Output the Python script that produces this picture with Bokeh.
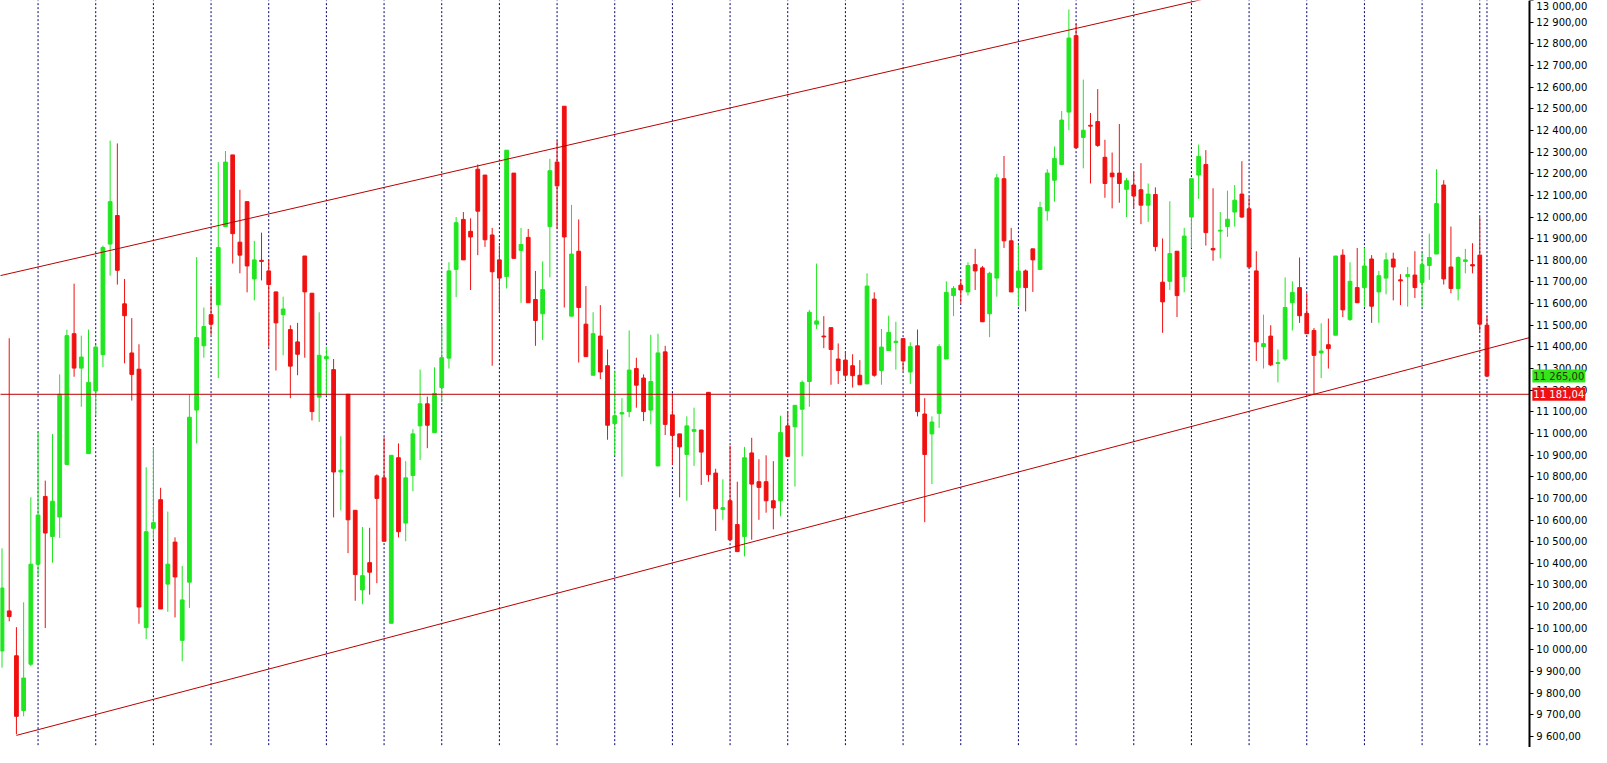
from bokeh.plotting import figure
from bokeh.models import (Range1d, LinearAxis, FixedTicker, CustomJSTickFormatter,
                          Label, ColumnDataSource)
from bokeh.embed import file_html
from bokeh.resources import INLINE

# ---------------- data ----------------
opens = [9995, 10180, 9973, 9720, 9934, 10396, 10709, 10524, 10614, 10857,
         11461, 11302, 10907, 11196, 11364, 11875, 12007, 11599, 11372, 11297,
         10103, 10562, 10694, 10304, 10498, 10044, 10313, 11108, 11405, 11549,
         11595, 11956, 12287, 11884, 12071, 11714, 11800, 11751, 11654, 11549,
         11480, 11423, 11820, 11648, 11168, 11345, 11295, 10822, 11181, 10645,
         10277, 10403, 10804, 10795, 10123, 10888, 10586, 10806, 11035, 11137,
         11004, 11212, 11348, 11758, 11989, 11934, 12221, 12194, 11917, 11802,
         11725, 12203, 11846, 11906, 11619, 11553, 11956, 12254, 12512, 11542,
         11842, 11505, 11269, 11450, 11313, 11046, 11090, 11101, 11300, 11256,
         11108, 10850, 11377, 11086, 10998, 10903, 11010, 11016, 11190, 10817,
         10649, 10689, 10579, 10524, 10910, 10777, 10777, 10689, 10689, 11035,
         11031, 11112, 11240, 11505, 11450, 11489, 11344, 11339, 11313, 11269,
         11229, 11621, 11291, 11383, 11420, 11438, 11284, 11405, 11090, 10998,
         11093, 11344, 11637, 11685, 11654, 11780, 11765, 11553, 11718, 12177,
         11890, 11674, 11751, 11853, 11758, 12029, 12170, 12243, 12485, 12838,
         12368, 12424, 12441, 12276, 12203, 12203, 12128, 12148, 12126, 12055,
         12104, 11699, 11703, 11842, 11725, 12000, 12194, 12243, 11855, 11935,
         11956, 12023, 12106, 12038, 11751, 11401, 11450, 11323, 11344, 11604,
         11674, 11555, 11476, 11372, 11410, 11454, 11824, 11527, 11674, 11674,
         11806, 11654, 11718, 11806, 11710, 11725, 11732, 11698, 11776, 11829,
         12148, 11769, 11670, 11795, 11780, 11824, 11500]
highs = [10469, 11440, 10105, 10220, 10705, 11009, 10782, 10998, 11273, 11480,
         11692, 11452, 11480, 11410, 11868, 12353, 12340, 11714, 11533, 11412,
         10844, 10936, 10749, 10639, 10520, 10388, 11181, 11815, 11582, 11681,
         12254, 12305, 12287, 12126, 12071, 11890, 11928, 11802, 11654, 11632,
         11500, 11511, 11820, 11648, 11560, 11401, 11344, 10987, 11181, 10645,
         10568, 10564, 10811, 10982, 10899, 10954, 10872, 11020, 11295, 11170,
         11306, 11505, 11791, 12000, 12023, 11994, 12243, 12194, 11950, 11868,
         12309, 12203, 11950, 11945, 11751, 11795, 12269, 12353, 12512, 12056,
         11989, 11681, 11560, 11593, 11388, 11291, 11163, 11476, 11350, 11273,
         11456, 11461, 11405, 11185, 10998, 11079, 11119, 11016, 11190, 10837,
         10788, 10943, 10777, 10938, 10980, 10881, 10899, 10872, 11082, 11104,
         11130, 11245, 11571, 11785, 11542, 11489, 11416, 11377, 11366, 11339,
         11740, 11652, 11483, 11544, 11516, 11438, 11421, 11480, 11163, 11079,
         11412, 11703, 11681, 11714, 11791, 11853, 11774, 11747, 12199, 12282,
         11950, 11873, 11758, 11853, 12071, 12221, 12326, 12490, 12959, 12893,
         12635, 12481, 12591, 12357, 12298, 12430, 12181, 12210, 12249, 12155,
         12137, 11901, 12073, 11842, 11950, 12177, 12335, 12309, 12133, 12023,
         12122, 12148, 12258, 12093, 11842, 11549, 11500, 11388, 11721, 11703,
         11813, 11648, 11487, 11509, 11531, 11820, 11851, 11791, 11857, 11857,
         11824, 11751, 11835, 11835, 11736, 11769, 11842, 11835, 11923, 12221,
         12170, 11956, 11818, 11853, 11879, 12000, 11542]
lows = [9918, 10132, 9610, 9693, 9925, 10337, 10101, 10403, 10517, 10857,
        11262, 11123, 10907, 11086, 11306, 11729, 11688, 11324, 11152, 10121,
        10050, 10513, 10189, 10176, 10150, 9947, 10194, 10954, 11350, 11456,
        11256, 11956, 11785, 11740, 11652, 11615, 11707, 11401, 11291, 11361,
        11163, 11269, 11350, 11060, 11053, 11174, 10612, 10645, 10447, 10227,
        10211, 10255, 10308, 10502, 10123, 10520, 10502, 10733, 10877, 10932,
        11004, 11145, 11300, 11630, 11802, 11663, 11824, 11862, 11313, 11560,
        11670, 11809, 11604, 11604, 11405, 11432, 11721, 11945, 11582, 11542,
        11328, 11355, 11269, 11251, 10971, 10899, 10800, 11075, 11119, 11057,
        11042, 10850, 10993, 10855, 10705, 10689, 10850, 10762, 10777, 10550,
        10601, 10502, 10454, 10432, 10509, 10601, 10634, 10557, 10617, 10894,
        10755, 10894, 11123, 11483, 11394, 11225, 11229, 11251, 11212, 11225,
        11229, 11262, 11225, 11383, 11295, 11289, 11229, 11079, 10590, 10766,
        11026, 11344, 11542, 11604, 11637, 11663, 11516, 11445, 11632, 11857,
        11654, 11588, 11564, 11654, 11758, 11983, 12071, 12243, 12401, 12320,
        12225, 12155, 12324, 12089, 12040, 12066, 12000, 12044, 11967, 11978,
        11842, 11465, 11663, 11538, 11652, 11857, 12084, 11868, 11798, 11809,
        11908, 11956, 11996, 11769, 11335, 11300, 11311, 11236, 11335, 11476,
        11511, 11461, 11181, 11256, 11300, 11454, 11538, 11520, 11604, 11586,
        11511, 11511, 11643, 11615, 11593, 11586, 11626, 11586, 11710, 11829,
        11688, 11648, 11615, 11740, 11740, 11472, 11265]
closes = [10286, 10154, 9693, 9870, 10396, 10623, 10540, 10687, 11181, 11452,
          11302, 11353, 11236, 11399, 11859, 12071, 11754, 11544, 11273, 10198,
          10546, 10588, 10189, 10396, 10337, 10231, 11075, 11443, 11494, 11505,
          11859, 12254, 11923, 11824, 11774, 11802, 11795, 11688, 11511, 11575,
          11311, 11366, 11654, 11101, 11361, 11355, 10822, 10830, 10601, 10348,
          10343, 10359, 10700, 10502, 10899, 10546, 10795, 10998, 11137, 11038,
          11185, 11350, 11751, 11974, 11802, 11908, 12027, 11895, 11747, 11718,
          12309, 11809, 11873, 11604, 11522, 11665, 12214, 12144, 11908, 11829,
          11582, 11355, 11461, 11284, 11038, 11082, 11096, 11293, 11223, 11101,
          11240, 11372, 11042, 10991, 10938, 11035, 11018, 10914, 10810, 10652,
          10657, 10509, 10454, 10888, 10766, 10751, 10689, 10656, 11004, 10894,
          11130, 11236, 11560, 11520, 11446, 11388, 11291, 11269, 11267, 11225,
          11681, 11269, 11399, 11467, 11426, 11335, 11401, 11101, 10903, 11053,
          11401, 11652, 11670, 11663, 11776, 11751, 11516, 11740, 12181, 11890,
          11654, 11751, 11674, 11802, 12044, 12203, 12271, 12448, 12827, 12320,
          12401, 12420, 12331, 12155, 12186, 12155, 12168, 12097, 12055, 12106,
          11864, 11608, 11831, 11637, 11912, 12177, 12280, 11928, 11848, 11939,
          11990, 12078, 12000, 11769, 11423, 11415, 11317, 11327, 11582, 11652,
          11544, 11461, 11361, 11381, 11392, 11820, 11571, 11703, 11604, 11774,
          11588, 11729, 11802, 11769, 11705, 11734, 11674, 11780, 11813, 12062,
          11714, 11670, 11813, 11802, 11774, 11505, 11265]

separator_bars = [5, 13, 21, 29, 37, 45, 53, 61, 69, 77, 85, 93, 101, 109, 117,
                  125, 133, 141, 149, 157, 165, 173, 181, 189, 197, 205, 206]

upper_channel_bars = [0, 165]
upper_channel_values = [11731, 12994]
lower_channel_bars = [2, 182]
lower_channel_values = [9605, 11181]

support_level = 11181.04
last_price = 11265.00

tick_values = [9600, 9700, 9800, 9900, 10000, 10100, 10200, 10300, 10400, 10500,
               10600, 10700, 10800, 10900, 11000, 11100, 11200, 11300, 11400, 11500,
               11600, 11700, 11800, 11900, 12000, 12100, 12200, 12300, 12400, 12500,
               12600, 12700, 12800, 12900, 13000]

# ---------------- styling ----------------
BULL = "#1fe61f"
BEAR = "#f01010"
SEP = "#000070"
TREND = "#b80000"

W, H = 1591, 747
X0, X1 = -0.21, 220.5        # whole canvas width in bar units
AXIS_X = 211.88              # price scale line position (bar units)
Y0, Y1 = 9549, 13000.5

p = figure(width=W, height=H, x_range=Range1d(X0, X1), y_range=Range1d(Y0, Y1),
           output_backend="svg", toolbar_location=None,
           x_axis_location=None, y_axis_location=None,
           min_border_left=0, min_border_top=0, min_border_bottom=0,
           min_border_right=0)
p.xgrid.visible = False
p.ygrid.visible = False
p.outline_line_color = None
p.background_fill_color = "white"
p.border_fill_color = "white"

# period separators
p.segment(x0=separator_bars, x1=separator_bars,
          y0=[Y0 - 100] * len(separator_bars), y1=[Y1 + 100] * len(separator_bars),
          line_color=SEP, line_width=1, line_dash="2 2")

# candles
n = len(opens)
xs = list(range(n))
colors = [BULL if closes[i] >= opens[i] else BEAR for i in xs]
src = ColumnDataSource(dict(
    x=xs, high=highs, low=lows,
    top=[max(opens[i], closes[i]) for i in xs],
    bottom=[min(opens[i], closes[i]) for i in xs],
    color=colors))
p.segment(x0="x", x1="x", y0="low", y1="high", line_color="color", line_width=1, source=src)
p.vbar(x="x", width=0.52, top="top", bottom="bottom", fill_color="color",
       line_color="color", line_width=1, source=src)


def extend(bx, vy, x_from, x_to):
    slope = (vy[1] - vy[0]) / (bx[1] - bx[0])
    return [x_from, x_to], [vy[0] + slope * (x_from - bx[0]), vy[0] + slope * (x_to - bx[0])]


ux, uy = extend(upper_channel_bars, upper_channel_values, X0 - 2, AXIS_X)
p.line(ux, uy, line_color=TREND, line_width=1)
lx, ly = extend(lower_channel_bars, lower_channel_values, lower_channel_bars[0], AXIS_X)
p.line(lx, ly, line_color=TREND, line_width=1)
p.line([X0 - 2, AXIS_X], [support_level, support_level], line_color=TREND, line_width=1)

# right price axis (drawn at a fixed position inside the canvas)
fmt_code = r"""
const s = Math.round(tick).toString().replace(/\B(?=(\d{3})+(?!\d))/g, " ");
return s + ",00";
"""
yaxis = LinearAxis(ticker=FixedTicker(ticks=tick_values),
                   formatter=CustomJSTickFormatter(code=fmt_code),
                   fixed_location=AXIS_X,
                   axis_line_color="black", axis_line_width=2,
                   major_tick_out=4, major_tick_in=0, major_tick_line_color="black",
                   minor_tick_line_color=None,
                   major_label_text_font="DejaVu Sans",
                   major_label_text_font_size="10px",
                   major_label_text_color="black",
                   major_label_standoff=3)
p.add_layout(yaxis, "right")


def price_text(v):
    return f"{v:,.2f}".replace(",", " ").replace(".", ",")


for val, bg, fg in [(last_price, "#33e61a", "#2a3000"), (support_level, "#ee1111", "white")]:
    p.add_layout(Label(x=AXIS_X, y=val, x_offset=3, text=price_text(val),
                       text_baseline="middle", text_align="left",
                       text_font="DejaVu Sans", text_font_size="10px",
                       text_color=fg, background_fill_color=bg, padding=1))

open("out.html", "w").write(file_html(p, INLINE))
